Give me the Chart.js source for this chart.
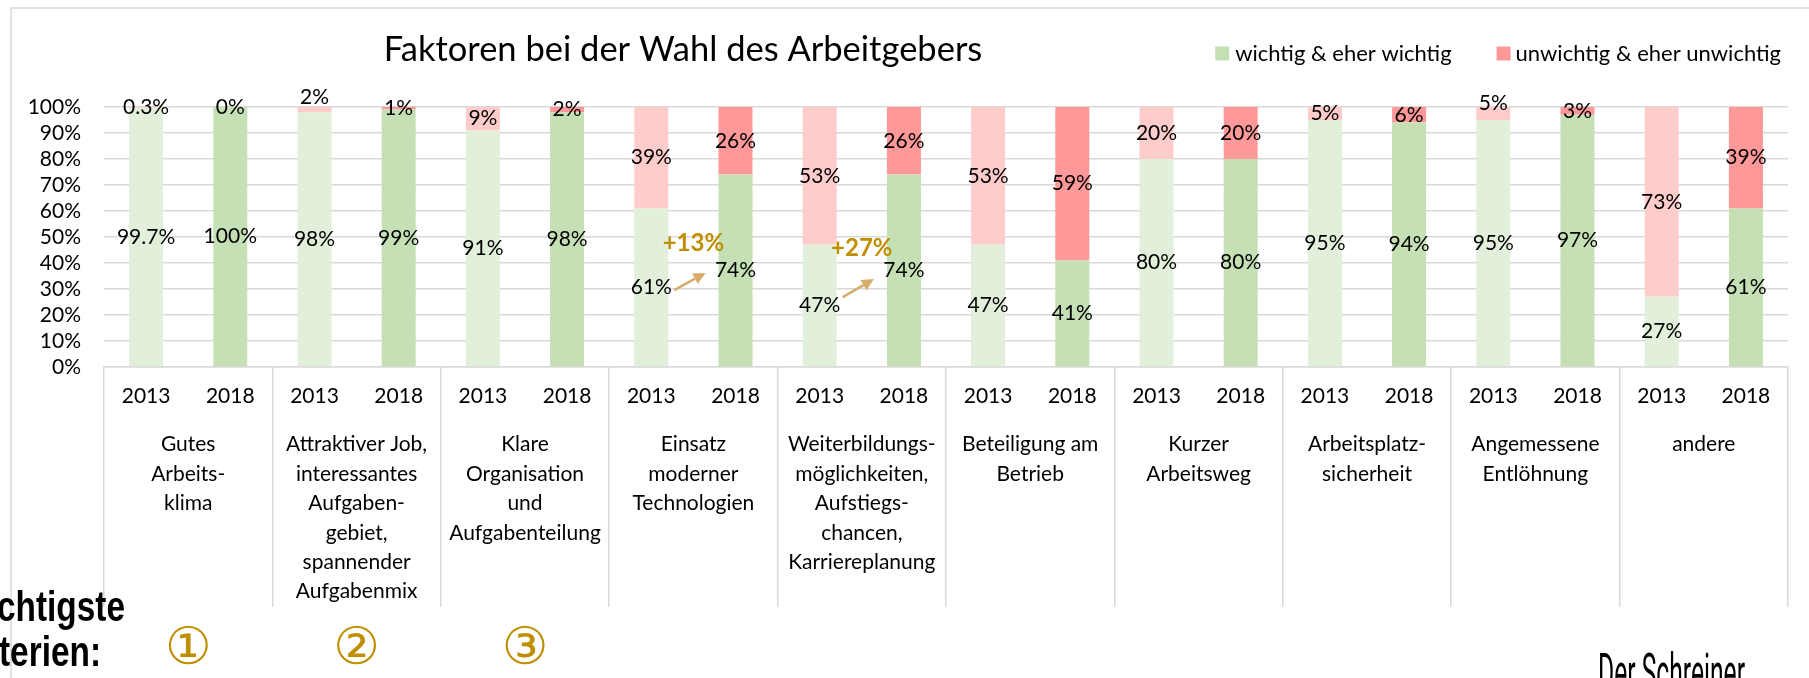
<!DOCTYPE html>
<html><head><meta charset="utf-8">
<script src="https://cdn.jsdelivr.net/npm/chart.js@4/dist/chart.umd.min.js"></script>
<style>html,body{margin:0;padding:0;background:#fff;overflow:hidden}#wrap{position:relative;width:1809px;height:678px}</style>
</head><body><div id="wrap"><canvas id="c" width="1809" height="678"></canvas></div>
<script>
// ---------- data ----------
const chartTitle = 'Faktoren bei der Wahl des Arbeitgebers';
const categories = [
  ['Gutes','Arbeits-','klima'],
  ['Attraktiver Job,','interessantes','Aufgaben-','gebiet,','spannender','Aufgabenmix'],
  ['Klare','Organisation','und','Aufgabenteilung'],
  ['Einsatz','moderner','Technologien'],
  ['Weiterbildungs-','möglichkeiten,','Aufstiegs-','chancen,','Karriereplanung'],
  ['Beteiligung am','Betrieb'],
  ['Kurzer','Arbeitsweg'],
  ['Arbeitsplatz-','sicherheit'],
  ['Angemessene','Entlöhnung'],
  ['andere']
];
const years = ['2013','2018'];
const seriesNames = ['wichtig & eher wichtig','unwichtig & eher unwichtig'];
const important2013   = [99.7, 98, 91, 61, 47, 47, 80, 95, 95, 27];
const important2018   = [100,  99, 98, 74, 74, 41, 80, 94, 97, 61];
const unimportant2013 = [0.3,   2,  9, 39, 53, 53, 20,  5,  5, 73];
const unimportant2018 = [0,     1,  2, 26, 26, 59, 20,  6,  3, 39];
const yTickValues = [0,10,20,30,40,50,60,70,80,90,100];
const topRankMarks = ['\u2460','\u2461','\u2462'];
const footerLines = ['chtigste','terien:'];
const brandText = 'Der Schreiner';

// ---------- build library tables ----------
const barLabels = [], wichtig = [], unwichtig = [];
categories.forEach((c, i) => {
  barLabels.push(years[0], years[1]);
  wichtig.push(important2013[i], important2018[i]);
  unwichtig.push(unimportant2013[i], unimportant2018[i]);
});

const FONT = 'Lato';
const GRID = '#d9d9d9';
const COLORS = {
  imp:   ['#e2efda', '#c5e0b4'],
  unimp: ['#ffcccc', '#ff9999']
};
const fmt = v => (Number.isInteger(v) ? v : v.toFixed(1)) + '%';

const decor = {
  id: 'decor',
  beforeDraw(chart) {
    const ctx = chart.ctx;
    ctx.save();
    ctx.fillStyle = '#fff';
    ctx.fillRect(0, 0, chart.width, chart.height);
    ctx.strokeStyle = GRID; ctx.lineWidth = 1.5;
    ctx.beginPath(); ctx.moveTo(11, chart.height); ctx.lineTo(11, 8); ctx.lineTo(chart.width, 8); ctx.stroke();
    ctx.restore();
  },
  afterDatasetsDraw(chart, args, opts) {
    const ctx = chart.ctx;
    const yS = chart.scales.y;
    ctx.save();
    ctx.font = '21px ' + FONT;
    ctx.fillStyle = '#000';
    ctx.textAlign = 'center';
    ctx.textBaseline = 'middle';
    chart.data.datasets.forEach((ds, di) => {
      const meta = chart.getDatasetMeta(di);
      meta.data.forEach((bar, i) => {
        const p = bar.getProps(['x', 'y', 'base'], true);
        const lift = (opts.lift[di] || {})[i] || 0;
        ctx.fillText(fmt(ds.data[i]), p.x, (p.y + p.base) / 2 - lift);
      });
    });
    // change annotations
    const meta0 = chart.getDatasetMeta(0);
    opts.changes.forEach(a => {
      const x1 = meta0.data[a.from].x, x2 = meta0.data[a.to].x;
      const diff = wichtig[a.to] - wichtig[a.from];
      ctx.font = 'bold 24px ' + FONT;
      ctx.fillStyle = '#bf8f00';
      ctx.fillText('+' + diff + '%', (x1 + x2) / 2, yS.getPixelForValue(a.textAt));
      const sx = x1 + 23, sy = yS.getPixelForValue(a.arrowFrom);
      const ex = x2 - 30, ey = yS.getPixelForValue(a.arrowTo);
      const ang = Math.atan2(ey - sy, ex - sx);
      const hl = 12, hw = 6;
      ctx.strokeStyle = '#d6ab6c'; ctx.fillStyle = '#d6ab6c'; ctx.lineWidth = 2.5;
      ctx.beginPath(); ctx.moveTo(sx, sy);
      ctx.lineTo(ex - hl * Math.cos(ang), ey - hl * Math.sin(ang)); ctx.stroke();
      ctx.beginPath(); ctx.moveTo(ex, ey);
      ctx.lineTo(ex - hl * Math.cos(ang) + hw * Math.sin(ang), ey - hl * Math.sin(ang) - hw * Math.cos(ang));
      ctx.lineTo(ex - hl * Math.cos(ang) - hw * Math.sin(ang), ey - hl * Math.sin(ang) + hw * Math.cos(ang));
      ctx.closePath(); ctx.fill();
    });
    ctx.restore();
  },
  afterDraw(chart) {
    const ctx = chart.ctx;
    ctx.save();
    // title
    ctx.fillStyle = '#000';
    ctx.textAlign = 'center'; ctx.textBaseline = 'alphabetic';
    ctx.font = '34.5px ' + FONT;
    ctx.fillText(chartTitle, 683, 61);
    // legend
    ctx.font = '22px ' + FONT;
    ctx.textAlign = 'left';
    const legCols = [COLORS.imp[1], COLORS.unimp[1]];
    const w1 = ctx.measureText(seriesNames[0]).width, w2 = ctx.measureText(seriesNames[1]).width;
    const t2 = 1781 - w2, b2 = t2 - 19, t1 = b2 - 45 - w1, b1 = t1 - 20;
    [[b1, t1], [b2, t2]].forEach((pos, k) => {
      ctx.fillStyle = legCols[k]; ctx.fillRect(pos[0], 46.5, 14, 14);
      ctx.fillStyle = '#000'; ctx.fillText(seriesNames[k], pos[1], 60.5);
    });
    // footer text (partly outside the picture in the original)
    ctx.font = 'bold 42px "Liberation Sans"';
    const fw = ctx.measureText(footerLines[0]).width;
    const sx = 128 / fw;
    ctx.save(); ctx.translate(125, 0); ctx.scale(sx, 1); ctx.textAlign = 'right'; ctx.fillStyle = '#000';
    ctx.fillText(footerLines[0], 0, 621);
    ctx.restore();
    ctx.save(); ctx.translate(101, 0); ctx.scale(sx, 1); ctx.textAlign = 'right'; ctx.fillStyle = '#000';
    ctx.fillText(footerLines[1], 0, 666);
    ctx.restore();
    // circled ranks at category centres
    const x2 = chart.scales.x2;
    ctx.font = '52px "DejaVu Sans"';
    ctx.fillStyle = '#bf8f00'; ctx.textAlign = 'center'; ctx.textBaseline = 'middle';
    topRankMarks.forEach((m, i) => ctx.fillText(m, x2.getPixelForTick(i), 650));
    // brand
    ctx.font = '52px Roboto';
    const bw = ctx.measureText(brandText).width;
    ctx.save(); ctx.translate(1598, 0); ctx.scale(147 / bw, 1);
    ctx.textAlign = 'left'; ctx.textBaseline = 'alphabetic'; ctx.fillStyle = '#000';
    ctx.fillText(brandText, 0, 690);
    ctx.restore();
    ctx.restore();
  }
};

new Chart(document.getElementById('c'), {
  type: 'bar',
  data: {
    labels: barLabels,
    datasets: [
      { label: seriesNames[0], data: wichtig, xAxisID: 'x',
        backgroundColor: c => COLORS.imp[c.dataIndex % 2] },
      { label: seriesNames[1], data: unwichtig, xAxisID: 'x',
        backgroundColor: c => COLORS.unimp[c.dataIndex % 2] }
    ]
  },
  options: {
    responsive: false, animation: false, devicePixelRatio: 1,
    layout: { padding: { top: 107, right: 21, bottom: 69, left: 0 } },
    datasets: { bar: { barPercentage: 0.404, categoryPercentage: 1 } },
    plugins: {
      legend: { display: false }, title: { display: false }, tooltip: { enabled: false },
      decor: {
        lift: { 1: { 2: 12, 16: 10 } },
        changes: [
          { from: 6, to: 7, textAt: 47.7, arrowFrom: 29.6, arrowTo: 36.2 },
          { from: 8, to: 9, textAt: 45.8, arrowFrom: 26.9, arrowTo: 33.8 }
        ]
      }
    },
    scales: {
      x: {
        type: 'category', stacked: true, offset: true, position: 'bottom',
        grid: { display: true, offset: true, drawOnChartArea: false, drawTicks: true, tickLength: 240,
                lineWidth: 1.5, color: c => (c.index === undefined || c.index % 2 === 0) ? GRID : 'rgba(0,0,0,0)' },
        border: { display: true, color: GRID, width: 1.5 },
        ticks: { font: { family: FONT, size: 21, lineHeight: 1.2 }, color: '#000', padding: -223,
                 autoSkip: false, maxRotation: 0, minRotation: 0 },
        afterFit: s => { s.height = 42; }
      },
      x2: {
        type: 'category', labels: categories, offset: true, position: 'bottom',
        grid: { display: false, drawTicks: false }, border: { display: false },
        ticks: { font: { family: FONT, size: 21, lineHeight: 1.4 }, color: '#000', padding: 21,
                 autoSkip: false, maxRotation: 0, minRotation: 0 },
        afterFit: s => { s.height = 200; }
      },
      y: {
        stacked: true, min: 0, max: 100,
        afterBuildTicks: s => { s.ticks = yTickValues.map(v => ({ value: v })); },
        grid: { color: GRID, lineWidth: 1.5, drawTicks: false },
        border: { display: false },
        ticks: { font: { family: FONT, size: 21 }, color: '#000', padding: 23, autoSkip: false,
                 callback: v => v + '%' },
        afterFit: s => { s.width = 104; }
      }
    }
  },
  plugins: [decor]
});
</script>
</body></html>
